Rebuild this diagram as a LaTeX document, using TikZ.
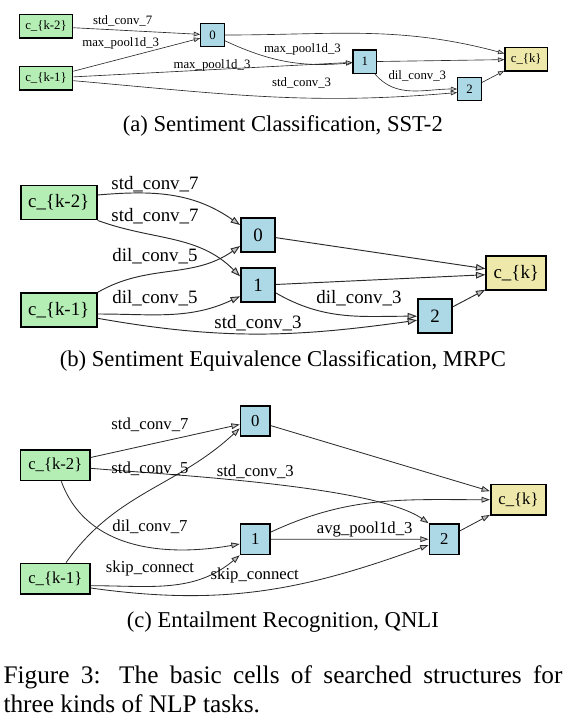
\documentclass[tikz,border=0pt]{standalone}
\usepackage{fontspec}
\setmainfont{Liberation Serif}
\usetikzlibrary{arrows.meta}
\definecolor{InGreen}  {HTML}{B4EEB4}
\definecolor{OpBlue}   {HTML}{ADD8E6}
\definecolor{OutYellow}{HTML}{EEE8AA}
\definecolor{EdgeGray} {HTML}{2B2B2B}
\definecolor{TipGray}  {HTML}{C4C4C4}
\tikzset{
  inbox/.style={draw=black, fill=InGreen, inner sep=0pt},
  opbox/.style={draw=black, fill=OpBlue, inner sep=0pt},
  outbox/.style={draw=black, fill=OutYellow, inner sep=0pt},
  oplabel/.style={inner sep=0pt},
  subcap/.style={anchor=base, inner sep=0pt, font=\fontsize{22.65}{27}\selectfont},
  figcap/.style={anchor=base west, inner sep=0pt, font=\fontsize{25.3}{30}\selectfont}
}
\begin{document}
\begin{tikzpicture}[x=1pt, y=1pt]
      \useasboundingbox (0,0) rectangle (574,-724);
      % ── Panel (a): SST-2 ──
      \begin{scope}[font=\fontsize{12.8}{15}\selectfont, line width=0.64pt,
            box/.style={line width=1.28pt, minimum height=23.3pt},
            link/.style={draw=EdgeGray, -{Triangle[length=6.4pt, width=4.6pt, fill=TipGray]}}]
        \node[inbox, box, minimum width=53.4pt] (k2a) at (46,-26.3) {c\_\{k-2\}};
        \node[inbox, box, minimum width=53.4pt] (k1a) at (46,-78.3) {c\_\{k-1\}};
        \node[opbox, box, minimum width=23.3pt] (n0a) at (212.5,-35) {0};
        \node[opbox, box, minimum width=23.3pt] (n1a) at (364.7,-61.7) {1};
        \node[opbox, box, minimum width=23.3pt] (n2a) at (469.5,-89) {2};
        \node[outbox, box, minimum width=42.3pt] (kka) at (526.2,-59.3) {c\_\{k\}};
        \draw[link] (k2a) -- (n0a);
        \draw[link] (k1a) -- (n0a);
        \draw[link] (n0a) to[out=-25, in=185] (n1a);
        \draw[link] (k1a) -- (n1a);
        \draw[link] (k1a) to[out=-5, in=185] ([yshift=-3.5pt]n2a.west);
        \draw[link] (n1a) to[out=-50, in=180] (n2a);
        \draw[link] (n0a) to[out=0, in=165] (kka);
        \draw[link] (n1a) -- (kka);
        \draw[link] (n2a) -- (kka);
        \node[oplabel] (ta1) at (122.7,-20.7) {std\_conv\_7};
        \node[oplabel] (ta2) at (120.7,-43.3) {max\_pool1d\_3};
        \node[oplabel] (ta3) at (302.4,-49.3) {max\_pool1d\_3};
        \node[oplabel] (ta4) at (212,-65) {max\_pool1d\_3};
        \node[oplabel] (ta5) at (417.3,-76) {dil\_conv\_3};
        \node[oplabel] (ta6) at (301.6,-82.7) {std\_conv\_3};
      \end{scope}
      \node[subcap] (capa) at (282.8,-131.7) {(a) Sentiment Classification, SST-2};
      % ── Panel (b): MRPC ──
      \begin{scope}[font=\fontsize{18.9}{22}\selectfont, line width=0.94pt,
            box/.style={line width=1.89pt, minimum height=34pt},
            link/.style={draw=EdgeGray, -{Triangle[length=9.4pt, width=6.6pt, fill=TipGray]}}]
        \node[inbox, box, minimum width=76pt] (k2b) at (58.7,-202.5) {c\_\{k-2\}};
        \node[inbox, box, minimum width=76pt] (k1b) at (58.7,-310.3) {c\_\{k-1\}};
        \node[opbox, box, minimum width=34pt] (n0b) at (258,-235) {0};
        \node[opbox, box, minimum width=34pt] (n1b) at (258,-285.3) {1};
        \node[opbox, box, minimum width=34pt] (n2b) at (435,-316.2) {2};
        \node[outbox, box, minimum width=60pt] (kkb) at (516.3,-273.3) {c\_\{k\}};
        \draw[link] ([yshift=7.5pt]k2b.east) to[out=5, in=145] ([yshift=10pt]n0b.west);
        \draw[link] (k2b.south east) to[out=-20, in=135] ([yshift=9pt]n1b.west);
        \draw[link] (k1b.north east) to[out=30, in=215] ([yshift=-11pt]n0b.west);
        \draw[link] ([yshift=-3.7pt]k1b.east) to[out=0, in=205] ([yshift=-11pt]n1b.west);
        \draw[link] ([yshift=-8pt]k1b.east) to[out=-10, in=188] ([yshift=-4pt]n2b.west);
        \draw[link] ([yshift=-7.7pt]n1b.east) to[out=-30, in=180] (n2b.west);
        \draw[link] (n0b) -- (kkb);
        \draw[link] (n1b) -- (kkb);
        \draw[link] (n2b) -- (kkb);
        \node[oplabel] (tb1) at (155,-184) {std\_conv\_7};
        \node[oplabel] (tb2) at (155,-216) {std\_conv\_7};
        \node[oplabel] (tb3) at (155,-255.7) {dil\_conv\_5};
        \node[oplabel] (tb4) at (155,-298.3) {dil\_conv\_5};
        \node[oplabel] (tb5) at (359,-298.3) {dil\_conv\_3};
        \node[oplabel] (tb6) at (258,-323.3) {std\_conv\_3};
      \end{scope}
      \node[subcap] (capb) at (282.8,-366) {(b) Sentiment Equivalence Classification, MRPC};
      % ── Panel (c): QNLI ──
      \begin{scope}[font=\fontsize{16.7}{20}\selectfont, line width=0.83pt,
            box/.style={line width=1.67pt, minimum height=30.3pt},
            link/.style={draw=EdgeGray, -{Triangle[length=8.3pt, width=5.8pt, fill=TipGray]}}]
        \node[opbox, box, minimum width=29.6pt] (n0c) at (255.3,-421) {0};
        \node[inbox, box, minimum width=69.3pt] (k2c) at (55.3,-465.3) {c\_\{k-2\}};
        \node[opbox, box, minimum width=29.6pt] (n1c) at (255.3,-539.3) {1};
        \node[inbox, box, minimum width=69.3pt] (k1c) at (55.3,-578.7) {c\_\{k-1\}};
        \node[opbox, box, minimum width=29.6pt] (n2c) at (444.2,-539.2) {2};
        \node[outbox, box, minimum width=55.6pt] (kkc) at (518.5,-499.7) {c\_\{k\}};
        \draw[link] (k2c) -- (n0c);
        \draw[link] ([yshift=-3pt]k2c.east) to[out=-5, in=145, looseness=0.5] (n2c.north west);
        \draw[link] ([xshift=6pt]k2c.south) to[out=-70, in=190] ([yshift=-4.7pt]n1c.west);
        \draw[link] ([xshift=10.7pt]k1c.north) to[out=55, in=223] ([yshift=-7.3pt]n0c.west);
        \draw[link] ([yshift=-7pt]k1c.east) to[out=0, in=220] (n1c.south west);
        \draw[link] ([yshift=-9.3pt]k1c.east) to[out=-8, in=200] ([yshift=-5.8pt]n2c.west);
        \draw[link] (n1c) -- (n2c);
        \draw[link] (n1c) to[out=25, in=180] (kkc);
        \draw[link] (n0c) -- (kkc);
        \draw[link] (n2c) -- (kkc);
        \node[oplabel] (tc1) at (150,-425) {std\_conv\_7};
        \node[oplabel] (tc2) at (150,-468.3) {std\_conv\_5};
        \node[oplabel] (tc3) at (255.3,-471.7) {std\_conv\_3};
        \node[oplabel] (tc4) at (150,-526.7) {dil\_conv\_7};
        \node[oplabel] (tc5) at (364.7,-530) {avg\_pool1d\_3};
        \node[oplabel] (tc6) at (150,-568.3) {skip\_connect};
        \node[oplabel] (tc7) at (254.8,-575) {skip\_connect};
      \end{scope}
      \node[subcap] (capc) at (282.8,-627.7) {(c) Entailment Recognition, QNLI};
      % ── Figure caption ──
      \node[figcap] (cap1) at (3.3,-683.3) {\hbox to 559pt{Figure 3: The basic cells of searched structures for}};
      \node[figcap] (cap2) at (3.3,-712.7) {three kinds of NLP tasks.};
    \end{tikzpicture}
\end{document}
